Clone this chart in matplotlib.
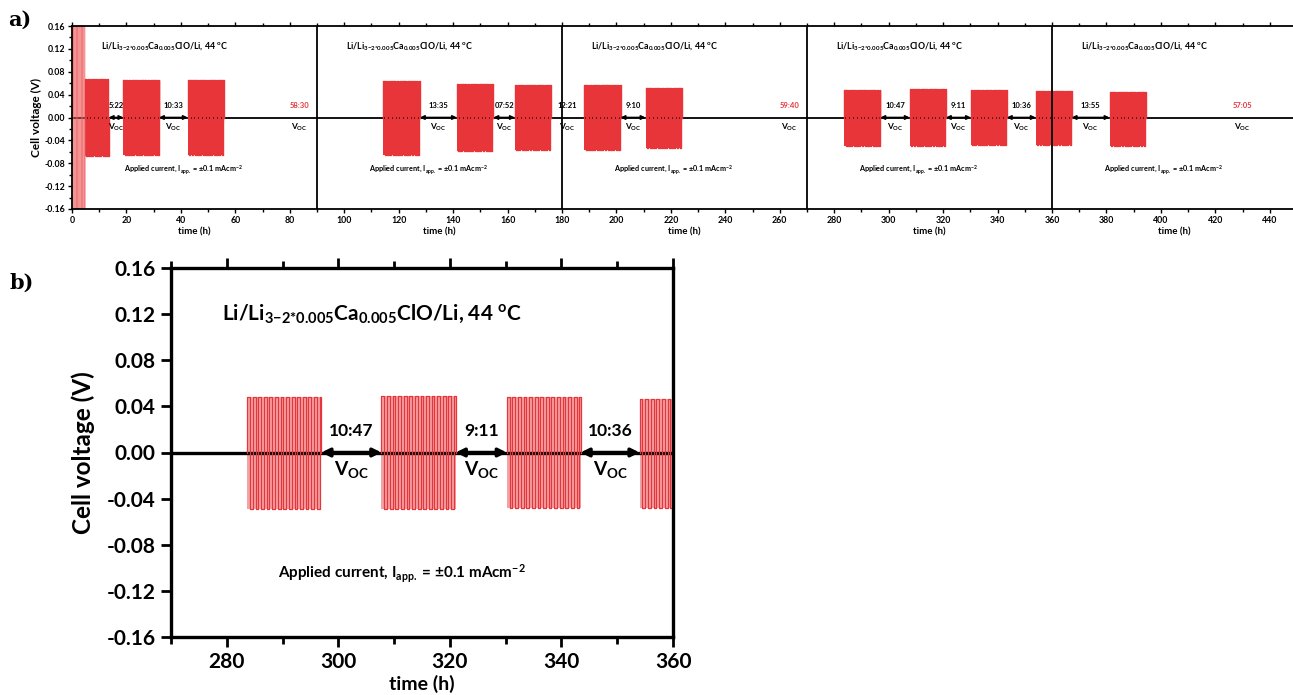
import numpy as np
import matplotlib.pyplot as plt
from matplotlib.ticker import MultipleLocator, FormatStrFormatter

plt.rcParams['font.family'] = ['Lato', 'DejaVu Sans']
plt.rcParams['font.weight'] = 'bold'
plt.rcParams['axes.labelweight'] = 'bold'
plt.rcParams['mathtext.fontset'] = 'custom'
plt.rcParams['mathtext.rm'] = 'Lato:bold'
plt.rcParams['mathtext.it'] = 'Lato:bold'
plt.rcParams['mathtext.bf'] = 'Lato:bold'

########## galvanostatic cycling data ##########
# conditioning cycles at the very start (h, V)
cond_start, cond_end, cond_amp = 0.2, 4.8, 0.20

# cycling blocks: length (h) and upper / lower plateau (V)
cycle_start = 4.8
cycle_len = [8.7, 13.1, 13.3, 13.5, 13.4, 13.2, 13.3, 13.3, 13.3, 13.3, 13.2, 13.2, 13.3]
v_upper = [0.068, 0.066, 0.065, 0.063, 0.058, 0.056, 0.056, 0.051, 0.048, 0.049, 0.048, 0.046, 0.044]
v_lower = [-0.068, -0.066, -0.066, -0.065, -0.059, -0.057, -0.057, -0.054, -0.049, -0.049, -0.048, -0.048, -0.049]

# open circuit rests after each block (h:min)
rest_hm = ['5:22', '10:33', '58:30', '13:35', '07:52', '12:21', '9:10',
           '59:40', '10:47', '9:11', '10:36', '13:55', '57:05']
long_rest_x = {2: 83.5, 7: 263.5, 12: 430}
no_arrow = [2, 5, 7, 12]

half_period = 0.5   # h per current direction
segments = [0, 90, 180, 270, 360]

red = '#e8353a'
pink = '#f2a3a6'


def hm_to_h(s):
    h, m = s.split(':')
    return int(h) + int(m) / 60.0


def square_wave(t0, t1, hi, lo, half):
    edges = np.append(np.arange(t0, t1, half), t1)
    vals = np.where(np.arange(len(edges) - 1) % 2 == 0, hi, lo)
    x = np.repeat(edges, 2)[1:-1]
    y = np.repeat(vals, 2)
    x = np.concatenate([[t0], x, [t1]])
    y = np.concatenate([[0], y, [0]])
    return x, y


# lay the blocks and rests out on the time axis
blocks = []
rests = []
t = cycle_start
for i in range(len(cycle_len)):
    blocks.append((t, t + cycle_len[i], v_upper[i], v_lower[i]))
    t = t + cycle_len[i]
    r = hm_to_h(rest_hm[i])
    rests.append((t, t + r))
    t = t + r

fig = plt.figure(figsize=(12.93, 6.95), dpi=100)
axA = fig.add_axes([72 / 1293, 1 - 209 / 695, 1225 / 1293, 183 / 695])
axB = fig.add_axes([171 / 1293, 1 - 637 / 695, 502 / 1293, 369 / 695])


def draw_cycles(ax, lw, fill, zero_lw):
    ax.axhline(0, color='k', lw=zero_lw, zorder=1)
    for (t0, t1, hi, lo) in blocks:
        x, y = square_wave(t0, t1, hi, lo, half_period)
        ax.fill_between([t0, t1], lo, hi, color=fill, lw=0, zorder=0.5)
        ax.plot(x, y, color=red, lw=lw, zorder=2)


def draw_rests(ax, fs, arrow_lw, head, dy):
    for i, (r0, r1) in enumerate(rests):
        if i in long_rest_x:
            xm = long_rest_x[i]
            col = red
        else:
            xm = 0.5 * (r0 + r1)
            col = 'k'
        if not (ax.get_xlim()[0] < xm < ax.get_xlim()[1]):
            continue
        ax.text(xm, dy, rest_hm[i], color=col, fontsize=fs, ha='center', va='bottom', zorder=3)
        ax.text(xm, -dy * 0.5, r'V$_{\mathrm{OC}}$', color='k', fontsize=fs * 1.1,
                ha='center', va='top', zorder=3)
        if i not in no_arrow:
            ax.annotate('', xy=(r1, 0), xytext=(r0, 0), zorder=3,
                        arrowprops=dict(arrowstyle='<|-|>', color='k', lw=arrow_lw,
                                        shrinkA=0, shrinkB=0, mutation_scale=head))


formula = r'Li/Li$_{3{-}2{*}0.005}$Ca$_{0.005}$ClO/Li, 44 $^{\mathrm{o}}$C'
current = r'Applied current, I$_{\mathrm{app.}}$ = $\pm$0.1 mAcm$^{-2}$'

########## a) full run ##########
axA.set_xlim(0, 450)
axA.set_ylim(-0.16, 0.16)
xc, yc = square_wave(cond_start, cond_end, cond_amp, -cond_amp, 0.3)
axA.fill_between([cond_start, cond_end], -0.16, 0.16, color='#f8c0c0', lw=0, zorder=0.5)
axA.plot(xc, yc, color='#ee6464', lw=0.35, zorder=2)
draw_cycles(axA, 1.0, red, 1.3)
axA.set_xlim(0, 450)
draw_rests(axA, 5.5, 1.2, 6, 0.014)
for s in segments[1:]:
    axA.axvline(s, color='k', lw=1.3, zorder=3)
for s in segments:
    axA.text(s + 10.5, 0.125, formula, fontsize=6.3, ha='left', va='center')
    axA.text(s + 19, -0.092, current, fontsize=5.2, ha='left', va='center')
    axA.text(s + 45, -0.125, 'time (h)', fontsize=7, ha='center', va='center',
             transform=axA.get_xaxis_transform())
axA.xaxis.set_major_locator(MultipleLocator(20))
axA.xaxis.set_minor_locator(MultipleLocator(10))
axA.yaxis.set_major_locator(MultipleLocator(0.04))
axA.yaxis.set_minor_locator(MultipleLocator(0.02))
axA.yaxis.set_major_formatter(FormatStrFormatter('%.2f'))
axA.tick_params(which='both', direction='out', top=True, labelsize=6.3, width=1, pad=2)
axA.tick_params(which='major', length=3)
axA.tick_params(which='minor', length=2)
axA.set_ylabel('Cell voltage (V)', fontsize=8.5, labelpad=2)
for sp in axA.spines.values():
    sp.set_linewidth(1.3)

########## b) zoom 270-360 h ##########
axB.set_xlim(270, 360)
axB.set_ylim(-0.16, 0.16)
draw_cycles(axB, 0.9, pink, 2.4)
axB.set_xlim(270, 360)
draw_rests(axB, 12.5, 2.5, 12, 0.012)
axB.text(279.2, 0.12, formula, fontsize=15, ha='left', va='center')
axB.text(289.2, -0.105, current, fontsize=11, ha='left', va='center')
axB.xaxis.set_major_locator(MultipleLocator(20))
axB.xaxis.set_minor_locator(MultipleLocator(10))
axB.yaxis.set_major_locator(MultipleLocator(0.04))
axB.yaxis.set_major_formatter(FormatStrFormatter('%.2f'))
axB.tick_params(which='both', direction='out', top=True, labelsize=15, width=2, pad=4)
axB.tick_params(which='major', length=7)
axB.tick_params(which='minor', length=5)
axB.set_xlabel('time (h)', fontsize=14, labelpad=2)
axB.set_ylabel('Cell voltage (V)', fontsize=17.5, labelpad=8)
for sp in axB.spines.values():
    sp.set_linewidth(2.4)

fig.text(8 / 1293, 1 - 20 / 695, 'a)', fontsize=15, family='DejaVu Serif', weight='bold', va='center')
fig.text(10 / 1293, 1 - 283 / 695, 'b)', fontsize=15, family='DejaVu Serif', weight='bold', va='center')

fig.savefig('out.png', dpi=100)
